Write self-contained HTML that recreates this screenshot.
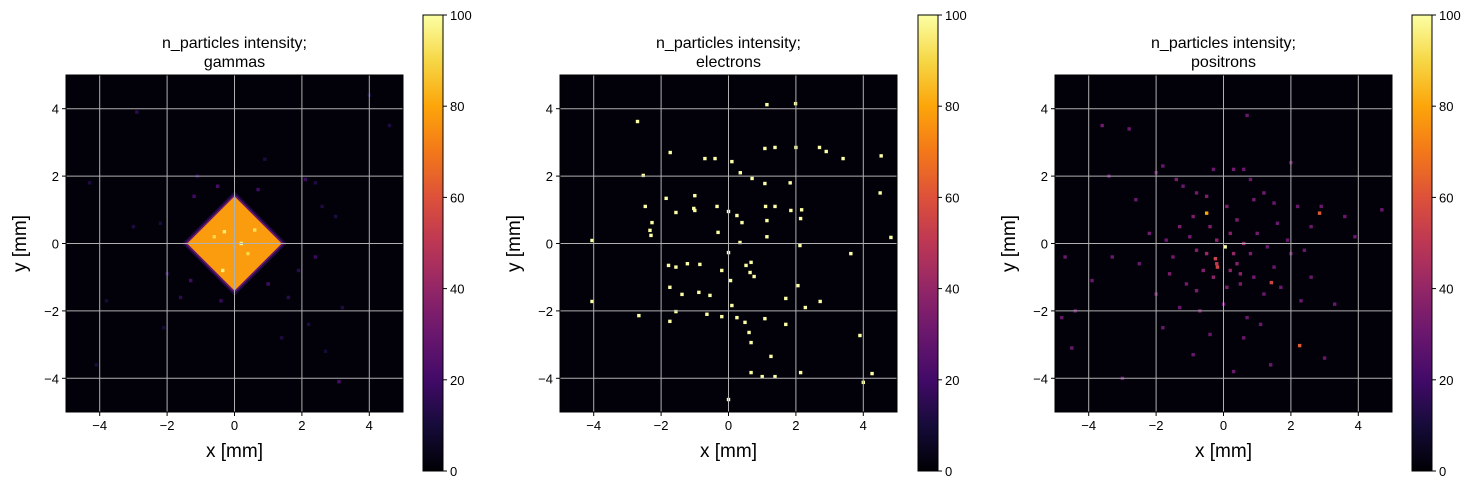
<!DOCTYPE html>
<html><head><meta charset="utf-8">
<style>
body{margin:0;background:#fff;}
svg{display:block;font-family:"Liberation Sans","DejaVu Sans",sans-serif;}
</style></head>
<body>
<svg id="fig" width="1481" height="490" viewBox="0 0 1481 490"></svg>
<script>
// ---- data ----
const panelTitles = ["gammas", "electrons", "positrons"];
const xTicks = [-4, -2, 0, 2, 4];
const yTicks = [-4, -2, 0, 2, 4];
const cbTicks = [0, 20, 40, 60, 80, 100];
const gammaDiamond = {cx: 0, cy: 0, half: 1.4, value: 78};
const gammaHot = [[-0.3,0.35,95],[0.2,0,98],[-0.35,-0.8,96],[0.6,0.4,92],[-0.6,0.2,90],[0.4,-0.3,90]];
const gammaX = [-2.9,-4.3,-1.1,2.1,2.4,-1.6,3.1,3.2,1.6,-2.1,2.7,2.2,-3.0,1.9,-1.2,1.0,-0.5,2.4,3.0,4.0,-3.8,0.9,-2.0,1.4,-2.2,-4.1,4.6,2.6,-0.4,-1.3,0.7];
const gammaY = [3.9,1.8,2.0,1.9,1.8,-1.6,-4.1,-1.9,-1.6,-2.5,-3.2,-2.4,0.5,-0.8,1.4,-1.2,1.7,-0.4,0.8,4.4,-1.7,2.5,-0.9,-2.8,0.6,-3.6,3.5,1.1,-1.7,-1.1,1.6];
const gammaV = [15,12,14,18,12,15,22,12,14,10,10,12,12,14,20,20,22,18,12,10,10,12,14,12,10,10,12,12,18,20,20];
const elecX = [1.14,1.99,-2.7,1.38,1.08,-1.73,-0.7,-0.4,0.1,2.0,2.7,2.9,3.4,4.53,0.7,0.35,-2.53,1.08,1.83,4.5,-1.85,-1.0,-1.03,-1.0,-2.47,-1.56,-0.34,0,1.1,1.38,1.85,2.17,0.25,1.14,0.4,2.14,-2.27,-2.33,-2.3,-0.31,1.14,4.82,-4.05,0.34,2.12,3.63,0,-1.22,-0.85,-1.78,0.52,-0.2,0.64,0.67,-1.56,0.76,0.06,2.06,-1.74,-0.88,-1.38,-0.55,1.7,2.72,-4.05,0.1,2.28,-1.56,-0.64,-2.66,-0.2,0.25,1.08,-1.74,0.49,1.7,0.61,3.9,0.67,1.26,0.67,2.14,1.0,1.38,4.26,4.0,0];
const elecY = [4.12,4.15,3.62,2.85,2.82,2.7,2.52,2.52,2.43,2.85,2.85,2.73,2.52,2.6,1.93,2.1,2.02,1.78,1.8,1.5,1.34,1.42,1.04,0.98,1.1,0.92,1.1,0.95,1.1,1.1,0.98,1.0,0.83,0.68,0.62,0.74,0.62,0.39,0.24,0.33,0.2,0.18,0.09,0.03,-0.06,-0.3,-0.27,-0.6,-0.62,-0.65,-0.65,-0.8,-0.86,-0.56,-0.7,-0.98,-1.1,-1.25,-1.3,-1.45,-1.51,-1.54,-1.63,-1.72,-1.72,-1.84,-1.9,-2.02,-2.1,-2.14,-2.17,-2.2,-2.23,-2.31,-2.34,-2.4,-2.64,-2.73,-2.94,-3.35,-3.83,-3.83,-3.95,-3.95,-3.86,-4.12,-4.63];
const posX = [-3.6,-3.4,-2.0,-1.4,-1.2,-0.8,-0.5,-0.3,0.3,0.6,0.8,1.2,1.5,2.2,2.6,2.9,3.6,4.7,-4.7,-3.3,-2.5,-2.2,-1.7,-1.3,-1.0,-0.8,-0.4,-0.2,0.2,0.4,0.6,0.8,1.0,1.3,1.6,2.0,2.4,-1.6,-1.1,-0.6,-0.3,0.2,0.4,0.5,0.9,1.2,1.7,2.3,-2.0,-1.3,-0.7,0.0,0.7,1.1,-4.4,-4.8,-4.5,-1.8,-0.4,0.6,1.4,0.3,3.0,3.3,-0.9,-2.8,0.7,-3.0,2.0,-1.8,-0.9,0.1,0.9,-0.5,0.3,-0.2,0.5,0.1,-0.8,1.5,-2.6,2.6,3.9,-3.9,1.9,-1.5,-0.5,2.85,1.42,2.26,-0.24,-0.18,0.05];
const posY = [3.5,2.0,2.1,1.9,1.7,1.5,1.4,2.2,2.2,2.2,1.9,1.5,1.2,1.1,0.5,1.1,0.8,1.0,-0.4,-0.4,-0.6,0.3,0.1,0.5,0.2,-0.2,0.5,0.1,0.3,0.7,0.0,-0.3,0.3,-0.1,0.6,-0.3,-0.2,-0.9,-1.2,-0.8,-1.0,-0.8,-0.6,-1.2,-1.0,-1.5,-1.3,-1.7,-1.5,-1.9,-2.0,-1.8,-2.2,-2.4,-2.0,-2.2,-3.1,-2.5,-2.7,-2.8,-3.6,-3.8,-3.4,-1.8,-3.3,3.4,3.8,-4.0,2.4,2.3,0.8,1.1,1.3,-0.3,-0.3,-0.6,-0.9,-1.3,-1.4,-0.7,1.3,-1.0,0.2,-1.1,0.1,-0.4,0.9,0.9,-1.16,-3.03,-0.45,-0.7,-0.1];
const posV = [32,30,30,34,30,32,35,30,32,30,30,32,30,30,30,30,30,30,30,30,30,32,30,34,32,36,35,38,36,34,40,34,32,30,30,30,30,34,32,36,38,38,36,34,32,30,30,30,30,30,32,30,30,30,30,30,30,30,30,30,30,30,30,30,30,30,30,30,30,30,34,34,32,42,40,50,38,34,34,30,30,30,30,30,30,32,80,62,55,62,55,55,100];

// ---- helpers ----
const NS = "http://www.w3.org/2000/svg";
const fig = document.getElementById("fig");
function mk(tag, attrs, parent){const e=document.createElementNS(NS,tag);for(const k in attrs)e.setAttribute(k,attrs[k]);(parent||fig).appendChild(e);return e;}
const stops=[[0,[0,0,4]],[0.1,[22,11,57]],[0.2,[66,10,104]],[0.3,[106,23,110]],[0.4,[147,38,103]],[0.5,[188,55,84]],[0.6,[221,81,58]],[0.7,[243,120,25]],[0.8,[252,165,10]],[0.9,[246,215,70]],[1,[252,255,164]]];
function inferno(v){const t=Math.max(0,Math.min(1,v/100));for(let i=1;i<stops.length;i++){if(t<=stops[i][0]){const a=stops[i-1],b=stops[i];const f=(t-a[0])/(b[0]-a[0]);const c=a[1].map((x,j)=>Math.round(x+(b[1][j]-x)*f));return `rgb(${c[0]},${c[1]},${c[2]})`;}}return "rgb(252,255,164)";}

const defs=mk("defs",{});
const lg=mk("linearGradient",{id:"inf",x1:0,y1:1,x2:0,y2:0},defs);
for(let i=0;i<=20;i++){mk("stop",{offset:i/20,"stop-color":inferno(i*5)},lg);}

const panels=[{x0:66,cb:423},{x0:560,cb:918},{x0:1055,cb:1412}];
const W=337,Y0=75,H=337;
panels.forEach((p,pi)=>{
  const g=mk("g",{});
  
  
  const sx=v=>p.x0+(v+5)/10*W, sy=v=>Y0+(5-v)/10*H;
  const bg=mk("rect",{x:p.x0,y:Y0,width:W,height:H,fill:"#020109"},g);
  
  
  const cell=(x,y,v)=>{const r=mk("rect",{x:sx(x)-1.7,y:sy(y)-1.7,width:3.4,height:3.4,fill:inferno(v)},g);
    
    };
  if(pi===0){
    gammaX.forEach((x,i)=>cell(x,gammaY[i],gammaV[i]));
    const d=gammaDiamond,h2=d.half+0.15,h3=d.half+0.07;
    mk("polygon",{points:`${sx(d.cx)},${sy(d.cy+h2)} ${sx(d.cx+h2)},${sy(d.cy)} ${sx(d.cx)},${sy(d.cy-h2)} ${sx(d.cx-h2)},${sy(d.cy)}`,fill:inferno(12)},g);
    mk("polygon",{points:`${sx(d.cx)},${sy(d.cy+h3)} ${sx(d.cx+h3)},${sy(d.cy)} ${sx(d.cx)},${sy(d.cy-h3)} ${sx(d.cx-h3)},${sy(d.cy)}`,fill:inferno(30)},g);
    const dm=mk("polygon",{points:`${sx(d.cx)},${sy(d.cy+d.half)} ${sx(d.cx+d.half)},${sy(d.cy)} ${sx(d.cx)},${sy(d.cy-d.half)} ${sx(d.cx-d.half)},${sy(d.cy)}`,fill:inferno(d.value)},g);
    
    
    gammaHot.forEach(h=>cell(h[0],h[1],h[2]));
  } else if(pi===1){
    elecX.forEach((x,i)=>cell(x,elecY[i],100));
  } else {
    posX.forEach((x,i)=>cell(x,posY[i],posV[i]));
  }
  xTicks.forEach(t=>{mk("line",{x1:sx(t),x2:sx(t),y1:Y0,y2:Y0+H,stroke:"#b0b0b0","stroke-width":1},g);
    mk("line",{x1:sx(t),x2:sx(t),y1:Y0+H,y2:Y0+H+4,stroke:"#000"},g);
    const tl=mk("text",{x:sx(t),y:Y0+H+18,"font-size":13,"text-anchor":"middle"},g);tl.textContent=(t<0?"\u2212"+(-t):t);
    
    });
  yTicks.forEach(t=>{mk("line",{x1:p.x0,x2:p.x0+W,y1:sy(t),y2:sy(t),stroke:"#b0b0b0","stroke-width":1},g);
    mk("line",{x1:p.x0-4,x2:p.x0,y1:sy(t),y2:sy(t),stroke:"#000"},g);
    const tl=mk("text",{x:p.x0-7,y:sy(t)+5,"font-size":13,"text-anchor":"end"},g);tl.textContent=(t<0?"\u2212"+(-t):t);
    
    });
  mk("rect",{x:p.x0,y:Y0,width:W,height:H,fill:"none",stroke:"#000","stroke-width":1},g);
  const cx=p.x0+W/2;
  const t1=mk("text",{x:cx,y:48,"font-size":16,"text-anchor":"middle"},g);t1.textContent="n_particles intensity;";
  
  
  const t2=mk("text",{x:cx,y:67,"font-size":16,"text-anchor":"middle"},g);t2.textContent=panelTitles[pi];
  
  
  const xl=mk("text",{x:cx,y:457,"font-size":19,"text-anchor":"middle"},g);xl.textContent="x [mm]";
  
  
  const yl=mk("text",{x:0,y:0,"font-size":19,"text-anchor":"middle",transform:`translate(${p.x0-40},${Y0+H/2}) rotate(-90)`},g);yl.textContent="y [mm]";
  
  
  const cbY0=15,cbH=456,cbW=20;
  const cb=mk("rect",{x:p.cb,y:cbY0,width:cbW,height:cbH,fill:"url(#inf)",stroke:"#000","stroke-width":1},g);
  
  
  cbTicks.forEach(t=>{const yy=cbY0+cbH-t/100*cbH;
    mk("line",{x1:p.cb+cbW,x2:p.cb+cbW+4,y1:yy,y2:yy,stroke:"#000"},g);
    const tl=mk("text",{x:p.cb+cbW+7,y:yy+5,"font-size":13},g);tl.textContent=t;
    
    });
});
</script>
</body></html>
